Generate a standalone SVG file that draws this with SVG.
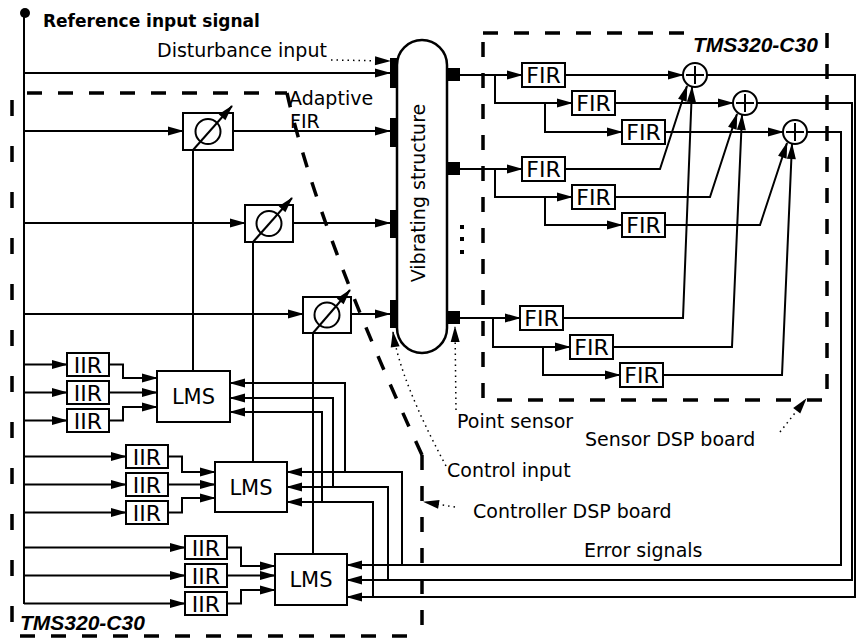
<svg xmlns="http://www.w3.org/2000/svg" width="857" height="638" viewBox="0 0 857 638">
<defs>
<marker id="ah" markerUnits="userSpaceOnUse" markerWidth="16" markerHeight="9" refX="15" refY="4.5" orient="auto" overflow="visible">
<path d="M0,0 L16,4.5 L0,9 Z" fill="#000" stroke="none"/>
</marker>
<style>
.ln{fill:none;stroke:#000;stroke-width:2}
.ar{marker-end:url(#ah)}
.box{fill:#fff;stroke:#000;stroke-width:2}
.dash{fill:none;stroke:#000;stroke-width:3.5;stroke-dasharray:15 16}
.dot{fill:none;stroke:#000;stroke-width:1.5;stroke-dasharray:1.5 4}
.pad{fill:#000}
text{font-family:"DejaVu Sans",sans-serif;fill:#000}
.lbl{font-size:19px}
.blk{font-size:22px;text-anchor:middle}
.tms{font-family:"Liberation Sans",sans-serif;font-size:21px;font-weight:bold;font-style:italic}
</style>
</defs>
<rect width="857" height="638" fill="#fff"/>

<!-- board boundaries -->
<g id="controller-board">
<path class="dash" d="M12,100 V636" style="stroke-dasharray:16 30"/>
<path class="dash" d="M27,93 H287"/>
<path class="dash" d="M287,93 Q318,230 422,455"/>
<path class="dash" d="M422,455 V636"/>
<path class="dash" d="M20,636 H422"/>
<text class="tms" x="20" y="630">TMS320-C30</text>
</g>
<g id="sensor-board">
<path class="dash" d="M483,33 H690"/>
<path class="dash" d="M827,33 V400 H483 V33"/>
<text class="tms" x="693" y="52">TMS320-C30</text>
</g>

<!-- connectors -->
<g id="connectors">
<path class="ln" d="M24,13 V604"/>
<path class="ln ar" d="M24,73 H390"/>
<path class="ln ar" d="M24,131 H183"/>
<path class="ln ar" d="M233,131 H390"/>
<path class="ln ar" d="M24,223 H245"/>
<path class="ln ar" d="M293,223 H390"/>
<path class="ln ar" d="M24,314 H303"/>
<path class="ln ar" d="M351,314 H390"/>
<!-- LMS to adaptive filters -->
<path class="ln" d="M193,371 V150"/>
<path class="ln" d="M253,462 V242"/>
<path class="ln" d="M313,554 V333"/>
<!-- IIR inputs -->
<path class="ln ar" d="M24,364.5 H67"/>
<path class="ln ar" d="M24,392.5 H67"/>
<path class="ln ar" d="M24,420.5 H67"/>
<path class="ln ar" d="M24,456.5 H126"/>
<path class="ln ar" d="M24,484.5 H126"/>
<path class="ln ar" d="M24,512.5 H126"/>
<path class="ln ar" d="M24,547.5 H185"/>
<path class="ln ar" d="M24,575.5 H185"/>
<path class="ln ar" d="M24,603.5 H185"/>
<!-- IIR outputs -->
<path class="ln ar" d="M109,364.5 H123 V378 H157"/>
<path class="ln ar" d="M109,392.5 H157"/>
<path class="ln ar" d="M109,420.5 H123 V407 H157"/>
<path class="ln ar" d="M168,456.5 H182 V472 H215"/>
<path class="ln ar" d="M168,484.5 H215"/>
<path class="ln ar" d="M168,512.5 H182 V498 H215"/>
<path class="ln ar" d="M227,547.5 H241 V566 H275"/>
<path class="ln ar" d="M227,575.5 H275"/>
<path class="ln ar" d="M227,603.5 H241 V590 H275"/>
<!-- error signals -->
<path class="ln ar" d="M707,75 H855 V597 H347"/>
<path class="ln ar" d="M757,103 H852 V580 H347"/>
<path class="ln ar" d="M807,132 H841 V565 H347"/>
<path class="ln ar" d="M402,565 V472 H287"/>
<path class="ln ar" d="M388,580 V487 H287"/>
<path class="ln ar" d="M373,597 V502 H287"/>
<path class="ln ar" d="M345,472 V383 H230"/>
<path class="ln ar" d="M333,487 V398 H230"/>
<path class="ln ar" d="M322,502 V412 H230"/>
<!-- sensor 1 -->
<path class="ln ar" d="M460,75 H522"/>
<path class="ln ar" d="M495,75 V103 H572"/>
<path class="ln ar" d="M545,103 V132 H622"/>
<path class="ln ar" d="M565,75 H683"/>
<path class="ln ar" d="M615,103 H733"/>
<path class="ln ar" d="M665,132 H783"/>
<!-- sensor 2 -->
<path class="ln ar" d="M460,169 H522"/>
<path class="ln ar" d="M495,169 V197 H572"/>
<path class="ln ar" d="M545,197 V225 H622"/>
<path class="ln ar" d="M565,169 H660 L687,86"/>
<path class="ln ar" d="M615,197 H710 L737,114"/>
<path class="ln ar" d="M665,225 H760 L787,143"/>
<!-- sensor 3 -->
<path class="ln ar" d="M460,318 H520"/>
<path class="ln ar" d="M493,318 V347 H570"/>
<path class="ln ar" d="M543,347 V375 H620"/>
<path class="ln ar" d="M563,318 H683 L692,87"/>
<path class="ln ar" d="M613,347 H732 L742,115"/>
<path class="ln ar" d="M663,375 H782 L792,144"/>
<!-- label leaders -->
<path class="dot ar" d="M331,60 L390,61"/>
<path class="dot ar" d="M446,466 Q400,380 393,332"/>
<path class="dot ar" d="M456,410 L455,327"/>
<path class="dot ar" d="M780,432 L806,399"/>
<path class="dot ar" d="M455,507 L424,502"/>
</g>

<!-- nodes -->
<g id="reference-source"><circle cx="25" cy="13" r="5" fill="#000"/></g>

<g id="vibrating-structure">
<rect x="397" y="40" width="50" height="313" rx="25" fill="#fff" stroke="#000" stroke-width="2.5"/>
<rect class="pad" x="390" y="58" width="8" height="30"/>
<rect class="pad" x="390" y="118" width="8" height="29"/>
<rect class="pad" x="390" y="210" width="8" height="28"/>
<rect class="pad" x="390" y="300" width="8" height="28"/>
<rect class="pad" x="447" y="68" width="13" height="13"/>
<rect class="pad" x="447" y="162" width="13" height="13"/>
<rect class="pad" x="447" y="311" width="13" height="13"/>
<text class="lbl" transform="translate(425,193) rotate(-90)" text-anchor="middle">Vibrating structure</text>
</g>
<g id="sensor-dots">
<rect x="460" y="225" width="4" height="4"/><rect x="460" y="237" width="4" height="4"/><rect x="460" y="250" width="4" height="4"/>
</g>

<g id="afir1"><rect class="box" x="183" y="113" width="50" height="37"/><circle cx="208" cy="131.5" r="12.5" fill="none" stroke="#000" stroke-width="2"/><path class="ln ar" d="M193,150 L232,106"/></g>
<g id="afir2"><rect class="box" x="245" y="205" width="48" height="37"/><circle cx="269" cy="223.5" r="12.5" fill="none" stroke="#000" stroke-width="2"/><path class="ln ar" d="M253,242 L292,198"/></g>
<g id="afir3"><rect class="box" x="303" y="297" width="48" height="36"/><circle cx="327" cy="315" r="12.5" fill="none" stroke="#000" stroke-width="2"/><path class="ln ar" d="M313,333 L350,290"/></g>

<g id="lms1"><rect class="box" x="157" y="371" width="73" height="51"/><text class="blk" x="193.5" y="404" style="font-size:21px">LMS</text></g>
<g id="lms2"><rect class="box" x="215" y="462" width="72" height="50"/><text class="blk" x="251" y="495" style="font-size:21px">LMS</text></g>
<g id="lms3"><rect class="box" x="275" y="554" width="72" height="51"/><text class="blk" x="311" y="587" style="font-size:21px">LMS</text></g>

<g id="iir1a"><rect class="box" x="67" y="353" width="42" height="23"/><text class="blk" x="88" y="372.5">IIR</text></g>
<g id="iir1b"><rect class="box" x="67" y="381" width="42" height="23"/><text class="blk" x="88" y="400.5">IIR</text></g>
<g id="iir1c"><rect class="box" x="67" y="409" width="42" height="23"/><text class="blk" x="88" y="428.5">IIR</text></g>
<g id="iir2a"><rect class="box" x="126" y="445" width="42" height="23"/><text class="blk" x="147" y="464.5">IIR</text></g>
<g id="iir2b"><rect class="box" x="126" y="473" width="42" height="23"/><text class="blk" x="147" y="492.5">IIR</text></g>
<g id="iir2c"><rect class="box" x="126" y="501" width="42" height="23"/><text class="blk" x="147" y="520.5">IIR</text></g>
<g id="iir3a"><rect class="box" x="185" y="536" width="42" height="23"/><text class="blk" x="206" y="555.5">IIR</text></g>
<g id="iir3b"><rect class="box" x="185" y="564" width="42" height="23"/><text class="blk" x="206" y="583.5">IIR</text></g>
<g id="iir3c"><rect class="box" x="185" y="592" width="42" height="23"/><text class="blk" x="206" y="611.5">IIR</text></g>

<g id="fir1"><rect class="box" x="522" y="63" width="43" height="24"/><text class="blk" x="543.5" y="83">FIR</text></g>
<g id="fir2"><rect class="box" x="572" y="91" width="43" height="24"/><text class="blk" x="593.5" y="111">FIR</text></g>
<g id="fir3"><rect class="box" x="622" y="120" width="43" height="24"/><text class="blk" x="643.5" y="140">FIR</text></g>
<g id="fir4"><rect class="box" x="522" y="157" width="43" height="24"/><text class="blk" x="543.5" y="177">FIR</text></g>
<g id="fir5"><rect class="box" x="572" y="185" width="43" height="24"/><text class="blk" x="593.5" y="205">FIR</text></g>
<g id="fir6"><rect class="box" x="622" y="213" width="43" height="24"/><text class="blk" x="643.5" y="233">FIR</text></g>
<g id="fir7"><rect class="box" x="520" y="306" width="43" height="24"/><text class="blk" x="541.5" y="326">FIR</text></g>
<g id="fir8"><rect class="box" x="570" y="335" width="43" height="24"/><text class="blk" x="591.5" y="355">FIR</text></g>
<g id="fir9"><rect class="box" x="620" y="363" width="43" height="24"/><text class="blk" x="641.5" y="383">FIR</text></g>

<g id="sum1"><circle cx="695" cy="75" r="12" fill="#fff" stroke="#000" stroke-width="2"/><path class="ln" d="M686,75 H704 M695,66 V84"/></g>
<g id="sum2"><circle cx="745" cy="103" r="12" fill="#fff" stroke="#000" stroke-width="2"/><path class="ln" d="M736,103 H754 M745,94 V112"/></g>
<g id="sum3"><circle cx="795" cy="132" r="12" fill="#fff" stroke="#000" stroke-width="2"/><path class="ln" d="M786,132 H804 M795,123 V141"/></g>

<!-- labels -->
<g id="labels">
<text x="43" y="27" style="font-size:17px;font-weight:bold">Reference input signal</text>
<text class="lbl" x="157" y="57">Disturbance input</text>
<text class="lbl" x="289" y="105">Adaptive</text>
<text class="lbl" x="290" y="128">FIR</text>
<text class="lbl" x="457" y="428">Point sensor</text>
<text class="lbl" x="585" y="446">Sensor DSP board</text>
<text class="lbl" x="447" y="477">Control input</text>
<text class="lbl" x="473" y="518">Controller DSP board</text>
<text class="lbl" x="584" y="557">Error signals</text>
</g>
</svg>
